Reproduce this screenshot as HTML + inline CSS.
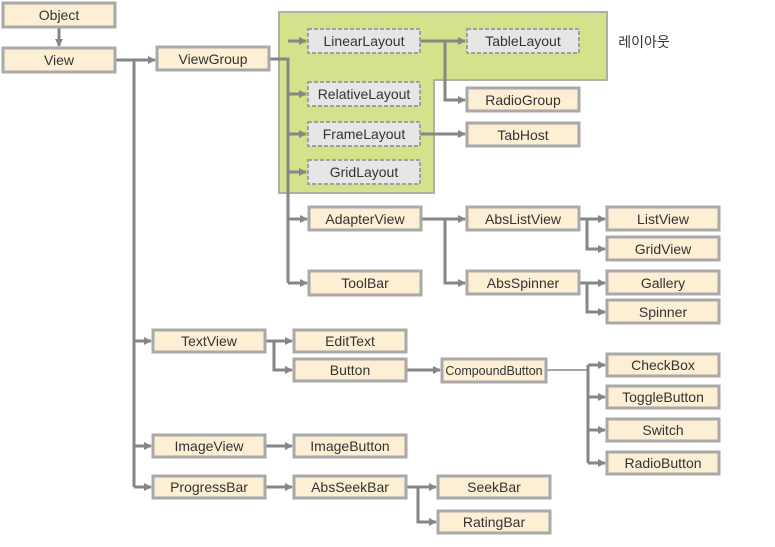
<!DOCTYPE html>
<html><head><meta charset="utf-8"><style>
html,body{margin:0;padding:0;background:#fff;}
svg{display:block;}
text{font-family:"Liberation Sans","Noto Sans CJK KR",sans-serif;font-size:14px;fill:#333;text-anchor:middle;dominant-baseline:central;}
.b{fill:#fdefd3;stroke:#a9a9a9;stroke-width:3;}
.d{fill:#e6e6e6;stroke:#a0a0a0;stroke-width:2;stroke-dasharray:4 2;}
.l{stroke:#868686;stroke-width:3;fill:none;}
</style></head><body>
<svg width="775" height="547" viewBox="0 0 775 547" xmlns="http://www.w3.org/2000/svg">
<defs><marker id="a" markerWidth="8" markerHeight="8" refX="7" refY="4" orient="auto" markerUnits="userSpaceOnUse"><path d="M0,0 L8,4 L0,8 z" fill="#868686"/></marker></defs>
<path d="M279,12 H607 V80 H434 V193 H279 Z" fill="#d3e28b" stroke="#b0b0a0" stroke-width="2"/>
<text x="644" y="42" style="text-anchor:middle">레이아웃</text>
<g class="l">
<path d="M59,27 V46" marker-end="url(#a)"/>
<path d="M115,60 H155" marker-end="url(#a)"/>
<path d="M134,60 V487"/>
<path d="M134,341 H151" marker-end="url(#a)"/>
<path d="M134,446 H151" marker-end="url(#a)"/>
<path d="M134,487 H151" marker-end="url(#a)"/>
<path d="M269,59 H288 V283"/>
<path d="M288,41 H306" marker-end="url(#a)"/>
<path d="M288,94 H306" marker-end="url(#a)"/>
<path d="M288,134 H306" marker-end="url(#a)"/>
<path d="M288,172 H306" marker-end="url(#a)"/>
<path d="M288,219 H307" marker-end="url(#a)"/>
<path d="M288,283 H307" marker-end="url(#a)"/>
<path d="M420,41 H465" marker-end="url(#a)"/>
<path d="M445,41 V100 H465" marker-end="url(#a)"/>
<path d="M420,134 H465" marker-end="url(#a)"/>
<path d="M421,219 H465" marker-end="url(#a)"/>
<path d="M445,219 V283 H465" marker-end="url(#a)"/>
<path d="M579,219 H605" marker-end="url(#a)"/>
<path d="M587,219 V249 H605" marker-end="url(#a)"/>
<path d="M579,283 H605" marker-end="url(#a)"/>
<path d="M587,283 V312 H605" marker-end="url(#a)"/>
<path d="M265,341 H292" marker-end="url(#a)"/>
<path d="M274,341 V370 H292" marker-end="url(#a)"/>
<path d="M406,370 H440" marker-end="url(#a)"/>
<path d="M546,370 H588" style="stroke-width:1.5"/>
<path d="M588,365 V463"/>
<path d="M588,365 H605" marker-end="url(#a)"/>
<path d="M588,397 H605" marker-end="url(#a)"/>
<path d="M588,430 H605" marker-end="url(#a)"/>
<path d="M588,463 H605" marker-end="url(#a)"/>
<path d="M265,446 H292" marker-end="url(#a)"/>
<path d="M265,487 H292" marker-end="url(#a)"/>
<path d="M406,487 H436" marker-end="url(#a)"/>
<path d="M418,487 V522 H436" marker-end="url(#a)"/>
</g>
<g>
<rect class="b" x="3" y="3" width="112" height="24"/><text x="59" y="15">Object</text>
<rect class="b" x="3" y="48" width="112" height="24"/><text x="59" y="60">View</text>
<rect class="b" x="157" y="47" width="112" height="23"/><text x="213" y="59">ViewGroup</text>
<rect class="d" x="308" y="29" width="112" height="24"/><text x="364" y="41">LinearLayout</text>
<rect class="d" x="467" y="29" width="112" height="24"/><text x="523" y="41">TableLayout</text>
<rect class="d" x="308" y="82" width="112" height="24"/><text x="364" y="94">RelativeLayout</text>
<rect class="d" x="308" y="122" width="112" height="24"/><text x="364" y="134">FrameLayout</text>
<rect class="d" x="308" y="160" width="112" height="24"/><text x="364" y="172">GridLayout</text>
<rect class="b" x="467" y="88" width="112" height="23"/><text x="523" y="100">RadioGroup</text>
<rect class="b" x="467" y="123" width="112" height="23"/><text x="523" y="135">TabHost</text>
<rect class="b" x="309" y="207" width="112" height="23"/><text x="365" y="219">AdapterView</text>
<rect class="b" x="467" y="207" width="112" height="23"/><text x="523" y="219">AbsListView</text>
<rect class="b" x="607" y="207" width="112" height="23"/><text x="663" y="219">ListView</text>
<rect class="b" x="607" y="237" width="112" height="23"/><text x="663" y="249">GridView</text>
<rect class="b" x="309" y="271" width="112" height="24"/><text x="365" y="283">ToolBar</text>
<rect class="b" x="467" y="271" width="112" height="23"/><text x="523" y="283">AbsSpinner</text>
<rect class="b" x="607" y="271" width="112" height="23"/><text x="663" y="283">Gallery</text>
<rect class="b" x="607" y="300" width="112" height="23"/><text x="663" y="312">Spinner</text>
<rect class="b" x="153" y="330" width="112" height="22"/><text x="209" y="341">TextView</text>
<rect class="b" x="294" y="330" width="112" height="22"/><text x="350" y="341">EditText</text>
<rect class="b" x="294" y="359" width="112" height="22"/><text x="350" y="370">Button</text>
<rect class="b" x="442" y="359" width="104" height="23"/><text x="494" y="371" style="font-size:12.5px">CompoundButton</text>
<rect class="b" x="607" y="354" width="112" height="22"/><text x="663" y="365">CheckBox</text>
<rect class="b" x="607" y="386" width="112" height="22"/><text x="663" y="397">ToggleButton</text>
<rect class="b" x="607" y="419" width="112" height="22"/><text x="663" y="430">Switch</text>
<rect class="b" x="607" y="452" width="112" height="22"/><text x="663" y="463">RadioButton</text>
<rect class="b" x="153" y="435" width="112" height="22"/><text x="209" y="446">ImageView</text>
<rect class="b" x="294" y="435" width="112" height="22"/><text x="350" y="446">ImageButton</text>
<rect class="b" x="153" y="476" width="112" height="22"/><text x="209" y="487">ProgressBar</text>
<rect class="b" x="294" y="476" width="112" height="22"/><text x="350" y="487">AbsSeekBar</text>
<rect class="b" x="438" y="476" width="112" height="22"/><text x="494" y="487">SeekBar</text>
<rect class="b" x="438" y="511" width="112" height="22"/><text x="494" y="522">RatingBar</text>
</g>
</svg>
</body></html>
